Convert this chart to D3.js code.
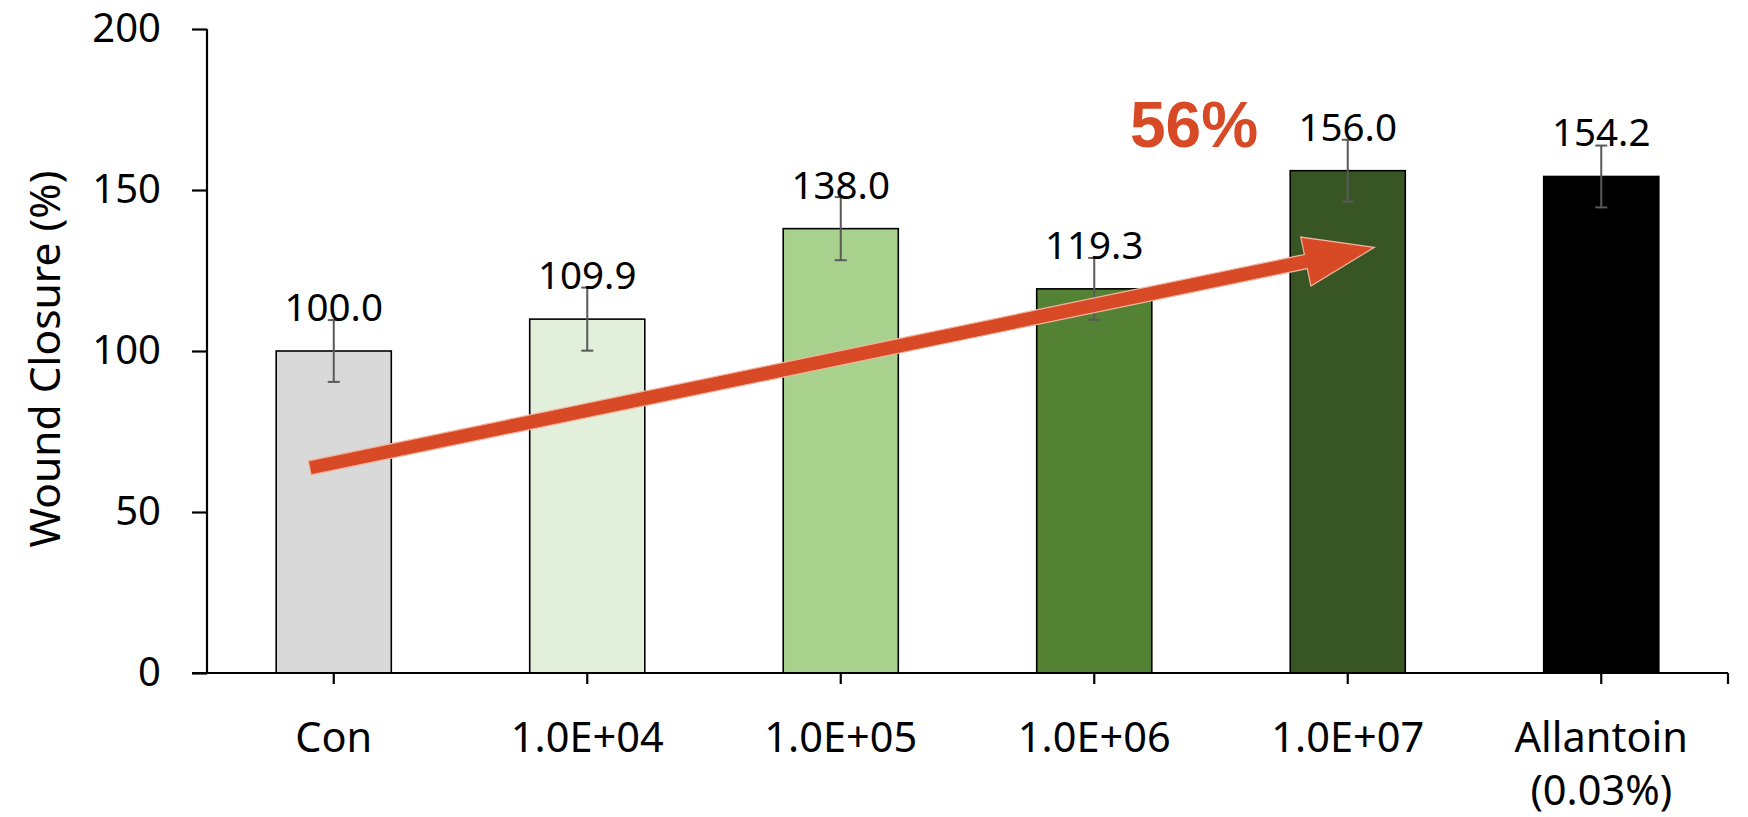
<!DOCTYPE html>
<html>
<head>
<meta charset="utf-8">
<script src="https://cdn.jsdelivr.net/npm/d3@7"></script>
<style>
  html, body { margin: 0; padding: 0; background: #fff; }
  svg { display: block; }
</style>
</head>
<body>
<script>
// ---- data ----
const categories = ["Con", "1.0E+04", "1.0E+05", "1.0E+06", "1.0E+07", "Allantoin"];
const categoryLines = [["Con"], ["1.0E+04"], ["1.0E+05"], ["1.0E+06"], ["1.0E+07"], ["Allantoin", "(0.03%)"]];
const values = [100.0, 109.9, 138.0, 119.3, 156.0, 154.2];
const errors = [9.6, 9.8, 9.8, 9.6, 9.6, 9.6];
const barColors = ["#D9D9D9", "#E2EFDA", "#A9D18E", "#548235", "#375623", "#000000"];
const yTicks = [0, 50, 100, 150, 200];
const yTitle = "Wound Closure (%)";
const annotationText = "56%";
// arrow annotation in data terms: [category index offset, value]
const arrowStart = [0 - 0.095, 63.7];
const arrowEnd = [4 + 0.105, 132.2];

(function () {
// ---- layout ----
const W = 1748, H = 817;
const pL = 207, pR = 1728, pT = 29, pB = 673;
const font = "'Noto Sans', 'Open Sans', sans-serif";

const svg = d3.select("body").append("svg").attr("width", W).attr("height", H);

const x = d3.scaleBand().domain(categories).range([pL, pR]).paddingInner(0.546).paddingOuter(0.273);
const y = d3.scaleLinear().domain([0, 200]).range([pB, pT]);
const step = x.step();
const xc = i => x(categories[0]) + x.bandwidth() / 2 + i * step;

// bars
svg.append("g").selectAll("rect").data(values).join("rect")
  .attr("x", (d, i) => x(categories[i]))
  .attr("y", d => y(d))
  .attr("width", x.bandwidth())
  .attr("height", d => y(0) - y(d))
  .attr("fill", (d, i) => barColors[i])
  .attr("stroke", "#000")
  .attr("stroke-width", 1.6);

// error bars
const eg = svg.append("g").attr("stroke", "#595959").attr("stroke-width", 2);
values.forEach((v, i) => {
  const cx = xc(i);
  eg.append("line").attr("x1", cx).attr("x2", cx).attr("y1", y(v + errors[i])).attr("y2", y(v - errors[i]));
  eg.append("line").attr("x1", cx - 6).attr("x2", cx + 6).attr("y1", y(v + errors[i])).attr("y2", y(v + errors[i]));
  eg.append("line").attr("x1", cx - 6).attr("x2", cx + 6).attr("y1", y(v - errors[i])).attr("y2", y(v - errors[i]));
});

// value labels
svg.append("g").selectAll("text").data(values).join("text")
  .attr("x", (d, i) => xc(i))
  .attr("y", d => y(d) - 30)
  .attr("text-anchor", "middle")
  .attr("font-family", font)
  .attr("font-size", 38.5)
  .attr("fill", "#000")
  .text(d => d.toFixed(1));

// y axis
const yAxis = svg.append("g").attr("transform", `translate(${pL},0)`)
  .call(d3.axisLeft(y).tickValues(yTicks).tickSize(15).tickPadding(31));
yAxis.select(".domain").attr("stroke", "#000").attr("stroke-width", 2.2).attr("d", `M0,${pT}V${pB}`);
yAxis.selectAll(".tick line").attr("stroke", "#000").attr("stroke-width", 2.2);
yAxis.selectAll(".tick text").attr("font-family", font).attr("font-size", 40).attr("fill", "#000");

// x axis
const xAxis = svg.append("g").attr("transform", `translate(0,${pB})`);
xAxis.append("line").attr("x1", pL - 15).attr("x2", pR).attr("y1", 0).attr("y2", 0)
  .attr("stroke", "#000").attr("stroke-width", 2.2);
const tickXs = categories.map((c, i) => xc(i)).concat([pR]);
xAxis.selectAll("line.tk").data(tickXs).join("line").attr("class", "tk")
  .attr("x1", d => d).attr("x2", d => d).attr("y1", 0).attr("y2", 11)
  .attr("stroke", "#000").attr("stroke-width", 2.2);
const xl = xAxis.selectAll("text").data(categoryLines).join("text")
  .attr("text-anchor", "middle")
  .attr("font-family", font)
  .attr("font-size", 41.5)
  .attr("fill", "#000")
  .attr("transform", (d, i) => `translate(${xc(i)},79)`);
xl.selectAll("tspan").data(d => d).join("tspan")
  .attr("x", 0).attr("y", (d, j) => j * 53).text(d => d);

// y title
svg.append("text")
  .attr("transform", `translate(60,359) rotate(-90)`)
  .attr("text-anchor", "middle")
  .attr("font-family", font)
  .attr("font-size", 42.5)
  .attr("fill", "#000")
  .text(yTitle);

// arrow annotation
const ax = v => xc(0) + v * step;
const p0 = [ax(arrowStart[0]), y(arrowStart[1])];
const p1 = [ax(arrowEnd[0]), y(arrowEnd[1])];
const dx = p1[0] - p0[0], dy = p1[1] - p0[1];
const len = Math.hypot(dx, dy);
const ux = dx / len, uy = dy / len, nx = -uy, ny = ux;
const headLen = 70, headHalf = 25, shaft = 7.2;
const bx = p1[0] - ux * headLen, by = p1[1] - uy * headLen;
const arrowPts = [
  [p0[0] + nx * shaft, p0[1] + ny * shaft],
  [bx + nx * shaft, by + ny * shaft],
  [bx + nx * headHalf, by + ny * headHalf],
  p1,
  [bx - nx * headHalf, by - ny * headHalf],
  [bx - nx * shaft, by - ny * shaft],
  [p0[0] - nx * shaft, p0[1] - ny * shaft]
];
svg.append("polygon")
  .attr("points", arrowPts.map(p => p.join(",")).join(" "))
  .attr("fill", "#D84A25")
  .attr("stroke", "#F3B5A2")
  .attr("stroke-width", 1.2)
  .attr("stroke-linejoin", "miter");

svg.append("text")
  .attr("x", 1194).attr("y", 147)
  .attr("text-anchor", "middle")
  .attr("font-family", "'Liberation Sans', Arial, sans-serif")
  .attr("font-weight", "bold")
  .attr("font-size", 64)
  .attr("fill", "#D84A25")
  .text(annotationText);
})();
</script>
</body>
</html>
